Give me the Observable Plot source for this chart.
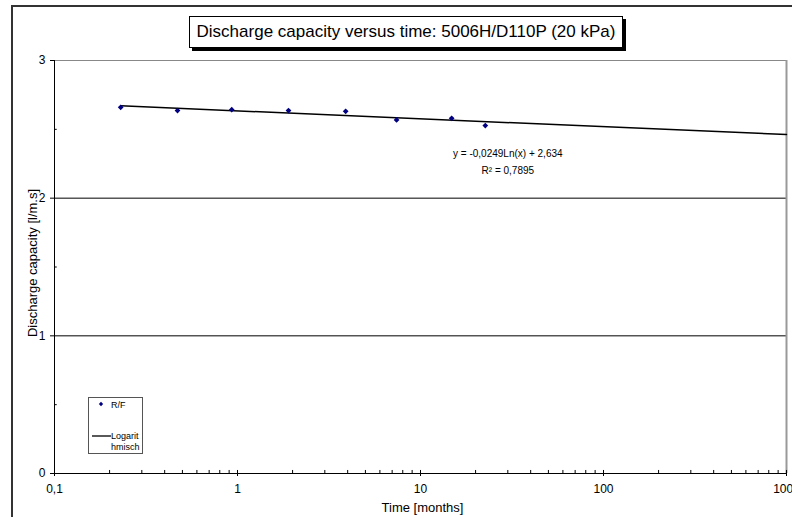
<!DOCTYPE html>
<html>
<head>
<meta charset="utf-8">
<script src="https://cdn.jsdelivr.net/npm/d3@7"></script>
<script src="https://cdn.jsdelivr.net/npm/@observablehq/plot@0.6"></script>
<style>
  html, body { margin: 0; padding: 0; background: #fff; overflow: hidden; }
  body { width: 792px; height: 517px; position: relative; font-family: "Liberation Sans", Arial, sans-serif; }
  #frame { position: absolute; left: 11px; top: 5px; width: 800px; height: 600px; border-left: 2px solid #333; border-top: 2px solid #333; }
  #chart { position: absolute; left: 0; top: 0; }
  #title { position: absolute; left: 189px; top: 16px; width: 432px; height: 30px; border: 1px solid #000; box-shadow: 3px 3px 0 #000; background: #fff; font-size: 17px; line-height: 30px; text-align: center; color: #000; }
  #legend { position: absolute; left: 88px; top: 397px; width: 53px; height: 55px; border: 1px solid #555; background: #fff; font-size: 9px; color: #000; }
</style>
</head>
<body>
<div id="frame"></div>
<div id="chart"></div>
<div id="title">Discharge capacity versus time: 5006H/D110P (20 kPa)</div>
<div id="legend"></div>
<script>
// Data
const timeMonths = [0.23, 0.47, 0.93, 1.9, 3.9, 7.4, 14.8, 22.6];
const capacity = [2.660, 2.636, 2.643, 2.636, 2.631, 2.568, 2.580, 2.527];
const seriesName = "R/F";
const trendName = "Logarithmisch";
// Trendline as reported on the chart: y = a*Ln(x) + b
const trendCoef = {a: -0.0249, b: 2.634};
const trendLabel = ["y = -0,0249Ln(x) + 2,634", "R\u00B2 = 0,7895"];
const xTitle = "Time [months]";
const yTitle = "Discharge capacity [l/m.s]";
const xMajor = [0.1, 1, 10, 100, 1000];
const yMajor = [0, 1, 2, 3];
const yMinor = [0.5, 1.5, 2.5];

const points = timeMonths.map((t, i) => ({t, c: capacity[i]}));
const trendEnds = [timeMonths[0], 1000].map(t => ({t, c: trendCoef.a * Math.log(t) + trendCoef.b}));
const xMinor = [];
for (let d = 0.1; d < 1000; d *= 10) for (let k = 2; k <= 9; k++) xMinor.push(+(d * k).toPrecision(3));
const fmt = d => String(d).replace(".", ",");

const plot = Plot.plot({
  width: 792,
  height: 517,
  marginLeft: 54,
  marginRight: 6,
  marginTop: 60,
  marginBottom: 44,
  style: {fontFamily: "Liberation Sans, Arial, sans-serif", fontSize: "12px", color: "#000", background: "transparent", overflow: "hidden"},
  x: {type: "log", domain: [0.1, 1000]},
  y: {domain: [0, 3]},
  marks: [
    Plot.ruleY([1, 2], {stroke: "#000", strokeWidth: 1}),
    Plot.ruleY([3], {stroke: "#888", strokeWidth: 1}),
    Plot.ruleX([1000], {stroke: "#999", strokeWidth: 2}),
    Plot.ruleY(yMinor, {x1: 0.1, x2: 0.1035, stroke: "#000"}),
    Plot.ruleX(xMinor, {y1: 0, y2: 0.022, stroke: "#000"}),
    Plot.ruleX(xMajor, {y1: 0, y2: 0.022, stroke: "#000"}),
    Plot.axisX({ticks: xMajor, tickFormat: fmt, tickSize: 3, tickPadding: 8, fontSize: 12, label: null}),
    Plot.axisY({ticks: yMajor, tickFormat: fmt, tickSize: 4, tickPadding: 5, fontSize: 12, label: null}),
    Plot.text([xTitle], {frameAnchor: "bottom", text: d => d, dy: 34, dx: 2, lineAnchor: "middle", fontSize: 13}),
    Plot.text([yTitle], {frameAnchor: "left", text: d => d, dx: -22, dy: -4, rotate: -90, textAnchor: "middle", lineAnchor: "middle", fontSize: 13}),
    Plot.ruleX([0.1], {stroke: "#000"}),
    Plot.ruleY([0], {stroke: "#000"}),
    Plot.line(trendEnds, {x: "t", y: "c", stroke: "#000", strokeWidth: 1.5}),
    Plot.dot(points, {x: "t", y: "c", symbol: "diamond2", r: 2.6, fill: "#000080", stroke: "none"}),
    Plot.text([trendLabel[0]], {x: 30, y: 2.324, text: d => d, fontSize: 10, fill: "#000"}),
    Plot.text([trendLabel[1]], {x: 30, y: 2.20, text: d => d, fontSize: 10, fill: "#000"})
  ]
});
document.getElementById("chart").appendChild(plot);

// Legend
const leg = d3.select("#legend").append("svg").attr("width", 53).attr("height", 55)
  .style("font-family", "Liberation Sans, Arial, sans-serif").style("font-size", "9px");
leg.append("path").attr("d", d3.symbol(d3.symbolDiamond2, 12)()).attr("transform", "translate(12,6)").attr("fill", "#000080");
leg.append("text").attr("x", 22).attr("y", 9.5).text(seriesName);
leg.append("line").attr("x1", 3).attr("x2", 22).attr("y1", 38).attr("y2", 38).attr("stroke", "#222").attr("stroke-width", 1.5);
leg.append("text").attr("x", 22).attr("y", 41).text(trendName.slice(0, 7));
leg.append("text").attr("x", 22).attr("y", 52).text(trendName.slice(7));
</script>
</body>
</html>
